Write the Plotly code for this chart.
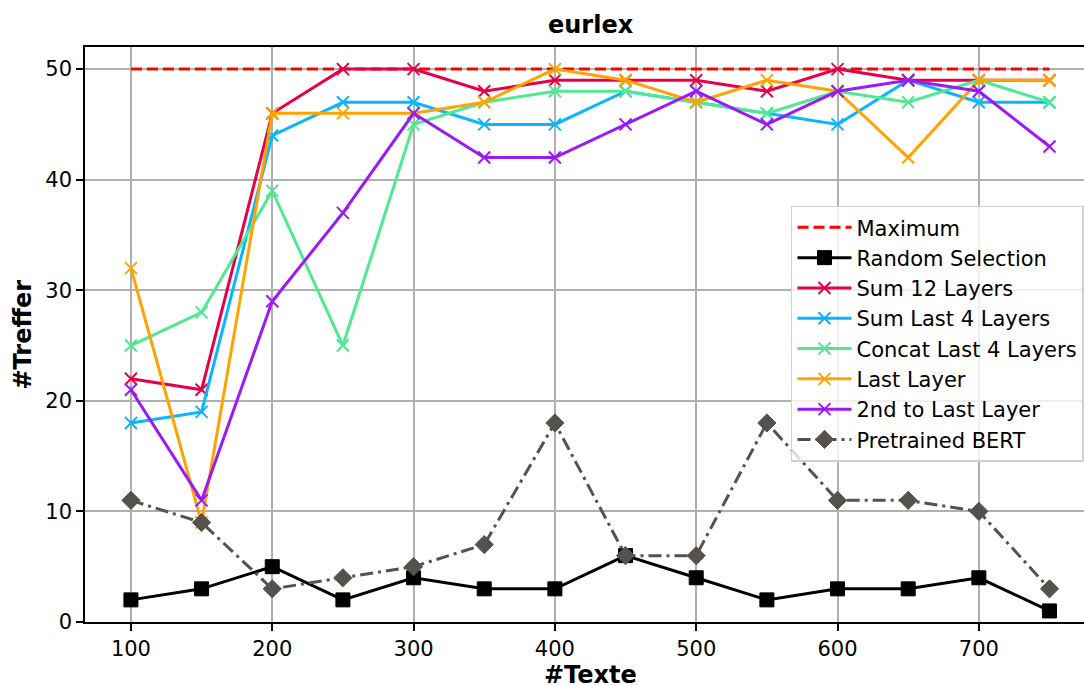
import plotly.graph_objects as go

# Number of texts used per run
texte = [100, 150, 200, 250, 300, 350, 400, 450, 500, 550, 600, 650, 700, 750]

# Hits per method
maximum = [50, 50, 50, 50, 50, 50, 50, 50, 50, 50, 50, 50, 50, 50]
random_selection = [2, 3, 5, 2, 4, 3, 3, 6, 4, 2, 3, 3, 4, 1]
sum_12_layers = [22, 21, 46, 50, 50, 48, 49, 49, 49, 48, 50, 49, 49, 49]
sum_last_4_layers = [18, 19, 44, 47, 47, 45, 45, 48, 47, 46, 45, 49, 47, 47]
concat_last_4_layers = [25, 28, 39, 25, 45, 47, 48, 48, 47, 46, 48, 47, 49, 47]
last_layer = [32, 9, 46, 46, 46, 47, 50, 49, 47, 49, 48, 42, 49, 49]
second_to_last_layer = [21, 11, 29, 37, 46, 42, 42, 45, 48, 45, 48, 49, 48, 43]
pretrained_bert = [11, 9, 3, 4, 5, 7, 18, 6, 6, 18, 11, 11, 10, 3]

x_ticks = [100, 200, 300, 400, 500, 600, 700]
y_ticks = [0, 10, 20, 30, 40, 50]

FONT = "DejaVu Sans"
LW = 3

fig = go.Figure()

fig.add_trace(go.Scatter(
    x=texte, y=maximum, name="Maximum", mode="lines", legendgroup="g0",
    line=dict(color="#ff0000", width=LW, dash="11px,5px"),
))
fig.add_trace(go.Scatter(
    x=texte, y=random_selection, name="Random Selection", mode="lines+markers",
    legendgroup="g1",
    line=dict(color="#000000", width=LW),
    marker=dict(symbol="square", size=14, color="#000000",
                line=dict(color="#000000", width=1)),
))

cross_series = [
    ("Sum 12 Layers", sum_12_layers, "#e60049"),
    ("Sum Last 4 Layers", sum_last_4_layers, "#0bb4ff"),
    ("Concat Last 4 Layers", concat_last_4_layers, "#50e991"),
    ("Last Layer", last_layer, "#ffa300"),
    ("2nd to Last Layer", second_to_last_layer, "#9b19f5"),
]
for i, (name, vals, col) in enumerate(cross_series):
    fig.add_trace(go.Scatter(
        x=texte, y=vals, name=name, mode="lines+markers", legendgroup=f"g{i + 2}",
        line=dict(color=col, width=LW),
        marker=dict(symbol="x-thin", size=12, color=col,
                    line=dict(color=col, width=2)),
    ))

fig.add_trace(go.Scatter(
    x=texte, y=pretrained_bert, name="Pretrained BERT", mode="lines+markers",
    legendgroup="g7",
    line=dict(color="#55514d", width=LW, dash="13px,5px,3px,5px"),
    marker=dict(symbol="diamond", size=14, color="#55514d",
                line=dict(color="#55514d", width=1)),
))

axis_common = dict(
    showgrid=True, gridcolor="#b0b0b0", gridwidth=1.5,
    zeroline=False, showline=True, linecolor="#000000", linewidth=1.6,
    ticks="outside", ticklen=7, tickwidth=1.6, tickcolor="#000000",
    tickfont=dict(family=FONT, size=21, color="#000000"),
)

fig.update_layout(
    width=1084, height=686,
    margin=dict(l=85, r=0, t=47, b=64, autoexpand=False),
    paper_bgcolor="#ffffff", plot_bgcolor="#ffffff",
    font=dict(family=FONT, color="#000000"),
    xaxis=dict(range=[67.5, 774.4], tickvals=x_ticks, mirror=True, **axis_common),
    yaxis=dict(range=[0, 52], tickvals=y_ticks, mirror=False, **axis_common),
    showlegend=True,
    legend=dict(
        x=0.7067, y=0.724, xanchor="left", yanchor="top",
        bgcolor="rgba(255,255,255,0.8)", bordercolor="#d0d0d0", borderwidth=1.5,
        font=dict(family=FONT, size=21, color="#000000"),
        tracegroupgap=7, traceorder="normal", itemwidth=54,
    ),
    annotations=[
        dict(text="<b>eurlex</b>", x=0.5065, y=1, xref="paper", yref="paper",
             yanchor="middle", yshift=22, showarrow=False,
             font=dict(family=FONT, size=24)),
        dict(text="<b>#Texte</b>", x=0.5065, y=0, xref="paper", yref="paper",
             yanchor="middle", yshift=-53, showarrow=False,
             font=dict(family=FONT, size=24)),
        dict(text="<b>#Treffer</b>", x=0, y=0.5, xref="paper", yref="paper",
             xanchor="center", xshift=-63, textangle=-90, showarrow=False,
             font=dict(family=FONT, size=24)),
    ],
)

fig.write_html("out.html")
